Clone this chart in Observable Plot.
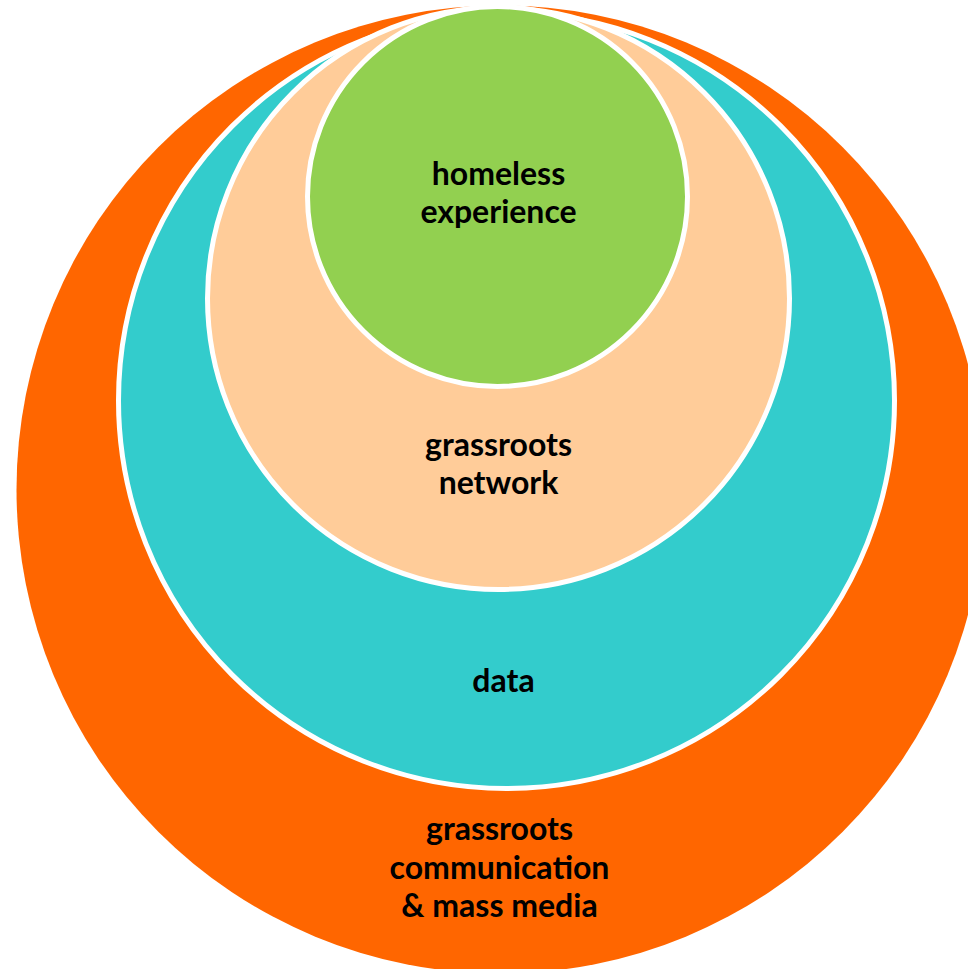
<!DOCTYPE html>
<html>
<head>
<meta charset="utf-8">
<script src="https://cdn.jsdelivr.net/npm/d3@7"></script>
<script src="https://cdn.jsdelivr.net/npm/@observablehq/plot@0.6"></script>
<style>
  html, body { margin: 0; padding: 0; background: #fff; overflow: hidden; }
</style>
</head>
<body>
<div id="chart"></div>
<script>
// Nested circles, outermost first (in pixel units)
const rings   = ["grassroots communication & mass media", "data", "grassroots network", "homeless experience"];
const ringCx  = [500, 506, 498, 497];
const ringCy  = [489, 400, 298, 196];
const ringR   = [484, 388, 291, 190];
const ringColors = ["#FF6600", "#33CCCC", "#FFCC99", "#92D050"];

// Labels
const labels  = ["homeless\nexperience", "grassroots\nnetwork", "data", "grassroots\ncommunication\n& mass media"];
const labelX  = [498, 498, 503, 499];
const labelY  = [191, 462, 679, 866];

const circles = rings.map((name, i) => ({name, x: ringCx[i], y: ringCy[i], r: ringR[i], color: ringColors[i], outer: i === 0}));
const texts = labels.map((t, i) => ({t, x: labelX[i], y: labelY[i]}));

const W = 968, H = 969;
const chart = Plot.plot({
  width: W,
  height: H,
  margin: 0,
  x: {domain: [0, W], axis: null},
  y: {domain: [H, 0], axis: null},
  r: {type: "identity"},
  style: {overflow: "hidden", background: "#fff"},
  marks: [
    Plot.dot(circles, {
      x: "x", y: "y", r: "r",
      fill: d => d.color,
      stroke: d => d.outer ? "none" : "#fff",
      strokeWidth: 5
    }),
    Plot.text(texts, {
      x: "x", y: "y", text: "t",
      fontFamily: "Lato",
      fontWeight: "bold",
      fontSize: 32,
      lineHeight: 1.2,
      fill: "#000"
    })
  ]
});
document.getElementById("chart").appendChild(chart);
</script>
</body>
</html>
